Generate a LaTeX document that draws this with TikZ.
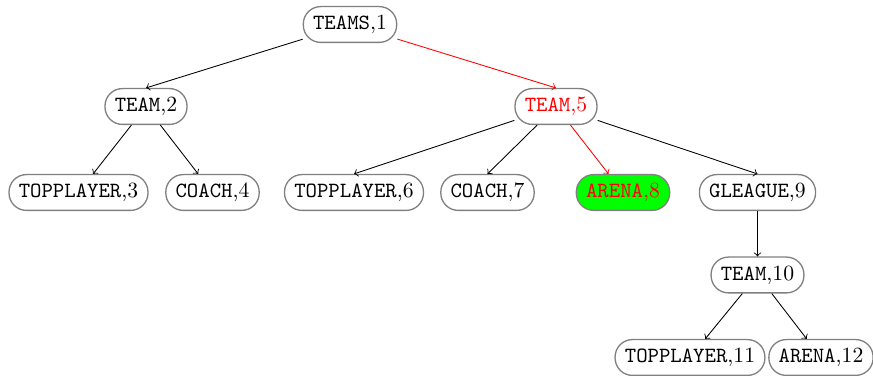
\documentclass[tikz,border=0pt]{standalone}
\begin{document}
\begin{tikzpicture}[x=0.4608pt, y=-0.4608pt,
  tnode/.style={draw=gray, line width=0.6pt, rounded corners=8pt, fill=white,
    minimum height=16.5pt, inner xsep=4.5pt, inner ysep=0pt,
    text height=6.9pt, text depth=1.9pt},
  hot/.style={text=red},
  picked/.style={fill=green},
  link/.style={->, black},
  hotlink/.style={->, red}]
  \useasboundingbox (0,0) rectangle (873,376);

  % tree nodes
  \node[tnode] (n1) at (350,24.5) {\texttt{TEAMS},1};
  \node[tnode] (n2) at (146,106.5) {\texttt{TEAM},2};
  \node[tnode, hot] (n5) at (556,106.5) {\texttt{TEAM},5};
  \node[tnode] (n3) at (78.5,192.5) {\texttt{TOPPLAYER},3};
  \node[tnode] (n4) at (212.5,192.5) {\texttt{COACH},4};
  \node[tnode] (n6) at (354,192.5) {\texttt{TOPPLAYER},6};
  \node[tnode] (n7) at (487.5,192.5) {\texttt{COACH},7};
  \node[tnode, hot, picked] (n8) at (623,192.5) {\texttt{ARENA},8};
  \node[tnode] (n9) at (757.5,192.5) {\texttt{GLEAGUE},9};
  \node[tnode] (n10) at (757.5,275) {\texttt{TEAM},10};
  \node[tnode] (n11) at (690,357.5) {\texttt{TOPPLAYER},11};
  \node[tnode] (n12) at (821,357.5) {\texttt{ARENA},12};

  % connectors
  \draw[link] (n1) -- (n2.north);
  \draw[hotlink] (n1) -- (n5.north);
  \draw[link] (n2) -- (n3);
  \draw[link] (n2) -- (n4);
  \draw[link] (n5) -- (n6.north);
  \draw[link] (n5) -- (n7.north);
  \draw[hotlink] (n5) -- (n8);
  \draw[link] (n5) -- (n9.north);
  \draw[link] (n9) -- (n10);
  \draw[link] (n10) -- (n11);
  \draw[link] (n10) -- (n12);
\end{tikzpicture}
\end{document}
